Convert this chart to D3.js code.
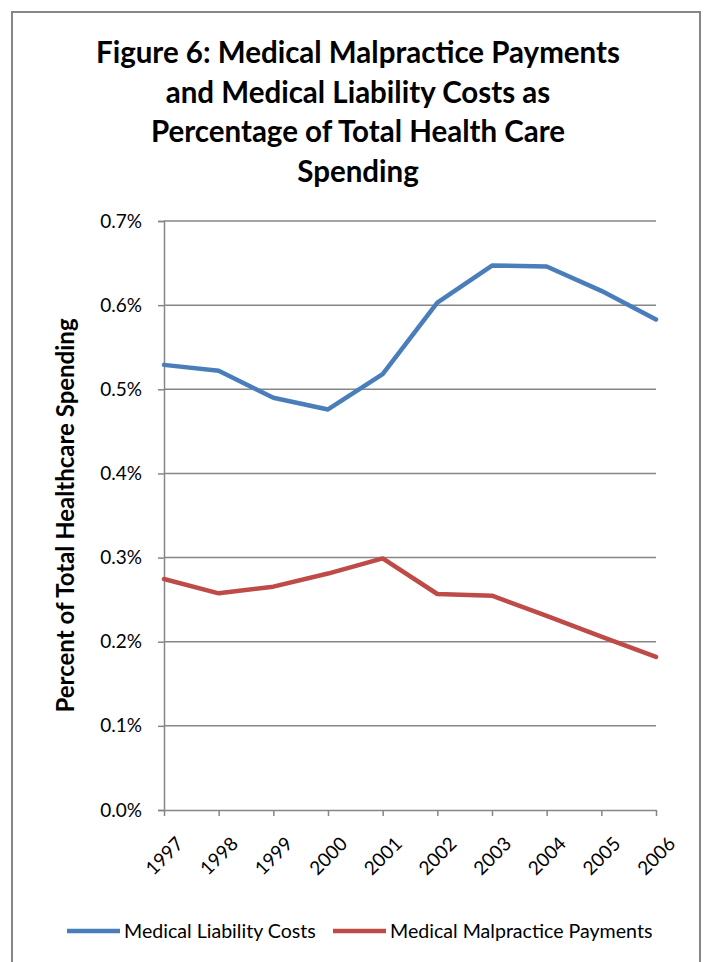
<!DOCTYPE html>
<html>
<head>
<meta charset="utf-8">
<script src="https://cdn.jsdelivr.net/npm/d3@7"></script>
<style>
  body { margin: 0; background: #fff; }
  text { font-family: Lato, "Open Sans", sans-serif; fill: #000; }
</style>
</head>
<body>
<svg id="chart" width="704" height="962"></svg>
<script>
// data
const years = ['1997', '1998', '1999', '2000', '2001', '2002', '2003', '2004', '2005', '2006'];
const liabilityCosts = [0.529, 0.522, 0.490, 0.476, 0.518, 0.603, 0.647, 0.646, 0.617, 0.583];
const malpracticePayments = [0.2745, 0.2575, 0.2654, 0.281, 0.299, 0.2567, 0.2547, 0.2306, 0.206, 0.182];
const yTicks = [0, 0.1, 0.2, 0.3, 0.4, 0.5, 0.6, 0.7];
const titleLines = ['Figure 6: Medical Malpractice Payments', 'and Medical Liability Costs as', 'Percentage of Total Health Care', 'Spending'];
const seriesNames = ['Medical Liability Costs', 'Medical Malpractice Payments'];

const colors = {
  liability: '#4a7ebb',
  malpractice: '#be4b48',
  axis: '#868686',
  grid: '#868686'
};

const svg = d3.select('#chart');
const margin = {left: 164, right: 48, top: 221, bottom: 152};

let x = d3.scalePoint()
  .domain(years)
  .range([margin.left, 704 - margin.right]);

let y = d3.scaleLinear()
  .domain([0, 0.7])
  .range([962 - margin.bottom, margin.top]);

// outer frame
svg.append('rect')
  .attr('x', 12).attr('y', 12)
  .attr('width', 688).attr('height', 980)
  .attr('fill', 'none')
  .attr('stroke', colors.axis)
  .attr('stroke-width', 2);

// title
svg.append('g').selectAll('text')
  .data(titleLines)
  .enter().append('text')
  .attr('x', 358)
  .attr('y', function (d, i) { return 63 + i * 39.5; })
  .attr('text-anchor', 'middle')
  .attr('font-size', 29.5)
  .attr('font-weight', 'bold')
  .text(function (d) { return d; });

// gridlines
svg.append('g').selectAll('line')
  .data(yTicks.slice(1))
  .enter().append('line')
  .attr('x1', margin.left).attr('x2', 704 - margin.right)
  .attr('y1', function (d) { return y(d); })
  .attr('y2', function (d) { return y(d); })
  .attr('stroke', colors.grid)
  .attr('stroke-width', 1.5);

// y axis
let yAxis = svg.append('g')
  .attr('transform', 'translate(' + margin.left + ',0)')
  .call(d3.axisLeft(y).tickValues(yTicks).tickSize(6).tickPadding(16)
    .tickFormat(function (d) { return d.toFixed(1) + '%'; }));
yAxis.select('.domain').attr('stroke', colors.axis).attr('stroke-width', 1.5);
yAxis.selectAll('.tick line').attr('stroke', colors.axis).attr('stroke-width', 1.5);
yAxis.selectAll('.tick text')
  .attr('font-size', 19)
  .attr('font-family', 'Lato, sans-serif')
  .attr('fill', '#000');

// x axis
let xAxis = svg.append('g')
  .attr('transform', 'translate(0,' + y(0) + ')')
  .call(d3.axisBottom(x).tickSize(6).tickSizeOuter(0));
xAxis.select('.domain').attr('stroke', colors.axis).attr('stroke-width', 1.5);
xAxis.selectAll('.tick line').attr('stroke', colors.axis).attr('stroke-width', 1.5);
xAxis.selectAll('.tick text')
  .attr('font-size', 19)
  .attr('font-family', 'Lato, sans-serif')
  .attr('fill', '#000')
  .attr('text-anchor', 'end')
  .attr('dy', '0.35em')
  .attr('transform', 'translate(9,24) rotate(-45)');

// y axis title
svg.append('text')
  .attr('transform', 'translate(74,' + y(0.35) + ') rotate(-90)')
  .attr('text-anchor', 'middle')
  .attr('font-size', 24)
  .attr('font-weight', 'bold')
  .text('Percent of Total Healthcare Spending');

// lines
let line = d3.line()
  .x(function (d, i) { return x(years[i]); })
  .y(function (d) { return y(d); });

svg.append('path')
  .datum(liabilityCosts)
  .attr('d', line)
  .attr('fill', 'none')
  .attr('stroke', colors.liability)
  .attr('stroke-width', 4.5)
  .attr('stroke-linecap', 'round')
  .attr('stroke-linejoin', 'round');

svg.append('path')
  .datum(malpracticePayments)
  .attr('d', line)
  .attr('fill', 'none')
  .attr('stroke', colors.malpractice)
  .attr('stroke-width', 4.5)
  .attr('stroke-linecap', 'round')
  .attr('stroke-linejoin', 'round');

// legend
let legend = [
  {name: seriesNames[0], color: colors.liability, x: 67},
  {name: seriesNames[1], color: colors.malpractice, x: 333}
];
let lg = svg.append('g').selectAll('g')
  .data(legend)
  .enter().append('g')
  .attr('transform', function (d) { return 'translate(' + d.x + ',931)'; });
lg.append('line')
  .attr('x1', 0).attr('x2', 53)
  .attr('y1', 0).attr('y2', 0)
  .attr('stroke', function (d) { return d.color; })
  .attr('stroke-width', 4.5);
lg.append('text')
  .attr('x', 57)
  .attr('y', 7)
  .attr('font-size', 19.6)
  .text(function (d) { return d.name; });
</script>
</body>
</html>
